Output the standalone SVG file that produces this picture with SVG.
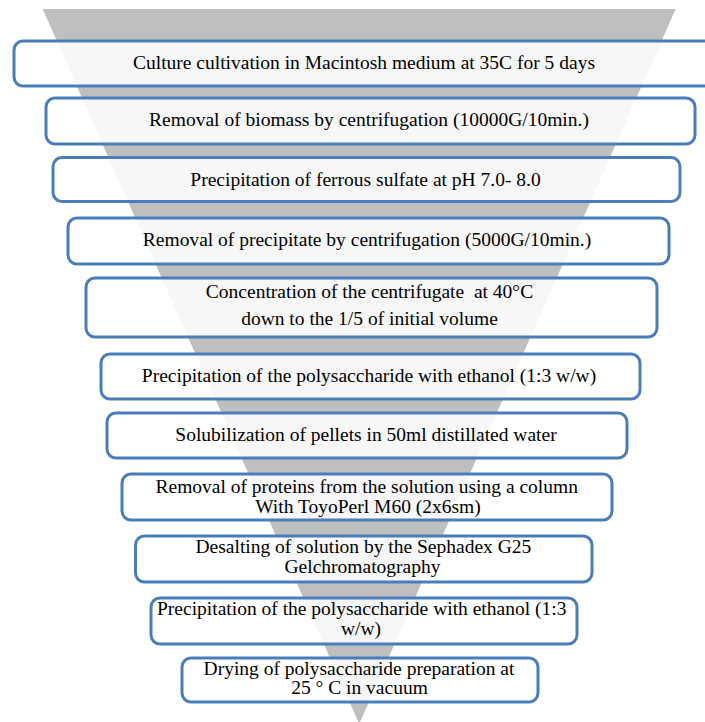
<svg xmlns="http://www.w3.org/2000/svg" width="705" height="722" viewBox="0 0 705 722">
<style>
.box{fill:#ffffff;fill-opacity:0.88;stroke:#4a7ebb;stroke-width:3}
.t{font-family:"Liberation Serif","Times New Roman",serif;font-size:19.5px;fill:#000;text-anchor:middle}
</style>
<rect x="0" y="0" width="705" height="722" fill="#ffffff"/>
<polygon id="funnel" points="42.7,9 675.7,9 359.2,724" fill="#bfbfbf"/>
<g id="connectors"/>
<g id="step1"><rect class="box" x="14" y="41" width="705" height="45" rx="9"/><text class="t" x="364" y="69.3">Culture cultivation in Macintosh medium at 35C for 5 days</text></g>
<g id="step2"><rect class="box" x="46" y="98" width="649" height="46" rx="9"/><text class="t" x="369" y="126">Removal of biomass by centrifugation (10000G/10min.)</text></g>
<g id="step3"><rect class="box" x="53" y="157.5" width="627" height="44" rx="9"/><text class="t" x="365.5" y="185.7">Precipitation of ferrous sulfate at pH 7.0- 8.0</text></g>
<g id="step4"><rect class="box" x="68" y="218" width="601" height="46" rx="9"/><text class="t" x="367" y="246">Removal of precipitate by centrifugation (5000G/10min.)</text></g>
<g id="step5"><rect class="box" x="86" y="278" width="571" height="59" rx="9"/><text class="t" x="369.5" y="298" xml:space="preserve">Concentration of the centrifugate  at 40°C</text><text class="t" x="369.5" y="325">down to the 1/5 of initial volume</text></g>
<g id="step6"><rect class="box" x="101" y="354" width="539" height="45" rx="9"/><text class="t" x="369" y="381.7">Precipitation of the polysaccharide with ethanol (1:3 w/w)</text></g>
<g id="step7"><rect class="box" x="107" y="413" width="520" height="45" rx="9"/><text class="t" x="366" y="440.7">Solubilization of pellets in 50ml distillated water</text></g>
<g id="step8"><rect class="box" x="122" y="474" width="490" height="46" rx="9"/><text class="t" x="366.7" y="492.7">Removal of proteins from the solution using a column</text><text class="t" x="368" y="512.7">With ToyoPerl M60 (2x6sm)</text></g>
<g id="step9"><rect class="box" x="135.5" y="536" width="456.5" height="46" rx="9"/><text class="t" x="363.4" y="553.3">Desalting of solution by the Sephadex G25</text><text class="t" x="362.5" y="572.7">Gelchromatography</text></g>
<g id="step10"><rect class="box" x="151" y="598" width="426" height="46" rx="9"/><text class="t" x="361.7" y="615">Precipitation of the polysaccharide with ethanol (1:3</text><text class="t" x="361" y="635">w/w)</text></g>
<g id="step11"><rect class="box" x="182" y="658" width="356" height="44" rx="9"/><text class="t" x="359" y="675">Drying of polysaccharide preparation at</text><text class="t" x="359.5" y="694">25 ° C in vacuum</text></g>
</svg>
